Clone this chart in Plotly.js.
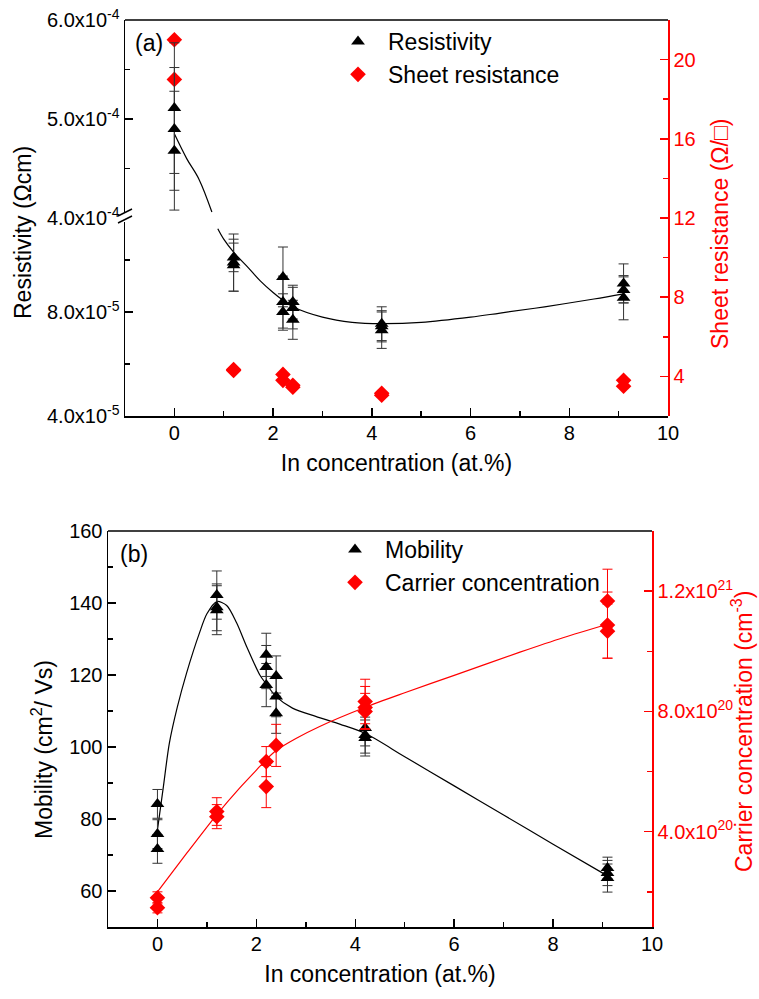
<!DOCTYPE html>
<html><head><meta charset="utf-8">
<script src="https://cdn.plot.ly/plotly-3.0.1.min.js"></script>
<style>html,body{margin:0;padding:0;background:#fff}#chart{width:759px;height:999px}</style>
</head><body><div id="chart"></div><script>
// ---------- Panel (a) data ----------
const resX   = [0,0,0, 1.2,1.2,1.2, 2.2,2.2,2.2, 2.4,2.4,2.4, 4.2,4.2,4.2, 9.1,9.1,9.1];
const resY   = [5.11e-4,4.90e-4,4.68e-4, 1.01e-4,9.9e-5,9.8e-5, 9.35e-5,8.38e-5,8.0e-5, 8.38e-5,8.15e-5,7.7e-5, 7.55e-5,7.45e-5,7.3e-5, 9.1e-5,8.85e-5,8.55e-5];
const resErr = [6.6e-5,6.2e-5,6.0e-5, 5.5e-6,1.1e-5,1.0e-5, 1.15e-5,1.0e-5,7e-6, 6.5e-6,8e-6,7.5e-6, 6.5e-6,6e-6,7e-6, 7.5e-6,5e-6,8.5e-6];
const sheetX = [0,0, 1.2,1.2, 2.2,2.2, 2.4,2.4, 4.2,4.2, 9.1,9.1];
const sheetY = [21.0,19.0, 4.35,4.3, 4.1,3.8, 3.55,3.45, 3.15,3.05, 3.8,3.5];
const resFitUpX = [0, 0.25, 0.5, 0.76];
const resFitUpY = [4.85e-4, 4.6e-4, 4.39e-4, 4.06e-4];
const resFitLoX = [0.88, 1.0, 1.2, 1.5, 1.74, 2.0, 2.2, 2.4, 3.0, 3.6, 4.2, 5.0, 6.0, 6.6, 7.5, 8.5, 9.1];
const resFitLoY = [1.12e-4,1.08e-4,1.03e-4,9.7e-5,9.2e-5,8.75e-5,8.45e-5,8.2e-5,7.8e-5,7.6e-5,7.55e-5,7.6e-5,7.8e-5,7.96e-5,8.2e-5,8.5e-5,8.7e-5];

// ---------- Panel (b) data ----------
const mobX   = [0,0,0, 1.2,1.2,1.2, 2.2,2.2,2.2, 2.4,2.4,2.4, 4.2,4.2,4.2, 9.1,9.1,9.1];
const mobY   = [84.2,75.8,71.7, 142.2,138.8,138.0, 125.6,122.2,117.2, 119.7,114.0,109.4, 105.3,103.3,102.5, 66.4,65.0,63.6];
const mobErr = [4,4,4, 6.7,6.5,6.8, 6,6,6, 5.6,5.6,5.6, 5,5,5, 3,3.5,3.9];
const carX   = [0,0, 1.2,1.2, 2.2,2.2, 2.4, 4.2,4.2,4.2, 9.1,9.1,9.1];
const carY   = [1.8e20,1.47e20, 4.67e20,4.5e20, 6.33e20,5.5e20, 6.87e20, 8.33e20,8.13e20,8.0e20, 1.167e21,1.087e21,1.067e21];
const carErr = [2e19,1.7e19, 4.6e19,4e19, 5e19,7e19, 7e19, 7.4e19,7e19,6e19, 1.06e20,1.1e20,9e19];
const mobFitX = [0,0.12,0.24,0.4,0.59,0.85,1.0,1.2,1.4,1.6,1.8,2.07,2.2,2.4,2.73,3.2,3.7,4.2,5,6,7,8,9.1];
const mobFitY = [77,89,101,111,120.6,131.7,137,140.4,139.3,134.5,128,120,117.5,114,110.8,108.5,106.3,103.8,97.3,89.2,81.1,73,64.2];
const carFitX = [0,0.6,1.2,1.66,2.07,2.2,2.4,2.8,3.28,4.19,5.0,6.0,7.33,8.2,9.1];
const carFitY = [2.0e20,3.3e20,4.57e20,5.45e20,6.17e20,6.4e20,6.7e20,7.1e20,7.5e20,8.13e20,8.62e20,9.2e20,9.97e20,1.045e21,1.09e21];

// tick labels
const resLoTicks = [4e-5, 8e-5], resLoText = ['4.0x10<sup>-5</sup>','8.0x10<sup>-5</sup>'];
const resUpTicks = [4e-4, 5e-4, 6e-4], resUpText = ['4.0x10<sup>-4</sup>','5.0x10<sup>-4</sup>','6.0x10<sup>-4</sup>'];
const carTicks = [4e20, 8e20, 1.2e21], carText = ['4.0x10<sup>20</sup>','8.0x10<sup>20</sup>','1.2x10<sup>21</sup>'];

const W = 759, H = 999;
const px = v => v / W, py = v => 1 - v / H;
const FONT = 'Liberation Sans, Arial, sans-serif';
const RED = '#ff0000';
const BREAK = 3e-4;

// split resistivity into upper/lower segments of the broken axis
const up = {x:[],y:[],e:[]}, lo = {x:[],y:[],e:[]};
resX.forEach((x,i)=>{ const t = resY[i] > BREAK ? up : lo; t.x.push(x); t.y.push(resY[i]); t.e.push(resErr[i]); });

const errB = (arr,color)=>({type:'data', array:arr, visible:true, color:color, thickness:1, width:5});
const tri = {symbol:'triangle-up', size:12, color:'#000'};
const dia = {symbol:'diamond', size:12, color:RED};

const traces = [
  {x:resFitUpX, y:resFitUpY, xaxis:'x', yaxis:'y3', mode:'lines', line:{color:'#000',width:1.2,shape:'spline'}, showlegend:false, hoverinfo:'skip'},
  {x:resFitLoX, y:resFitLoY, xaxis:'x', yaxis:'y', mode:'lines', line:{color:'#000',width:1.2,shape:'spline'}, showlegend:false, hoverinfo:'skip'},
  {x:up.x, y:up.y, error_y:errB(up.e,'#333'), xaxis:'x', yaxis:'y3', mode:'markers', marker:tri, name:'Resistivity', legend:'legend', legendgroup:'r'},
  {x:lo.x, y:lo.y, error_y:errB(lo.e,'#333'), xaxis:'x', yaxis:'y', mode:'markers', marker:tri, name:'Resistivity', showlegend:false, legendgroup:'r'},
  {x:sheetX, y:sheetY, xaxis:'x', yaxis:'y2', mode:'markers', marker:dia, name:'Sheet resistance', legend:'legend'},

  {x:mobFitX, y:mobFitY, xaxis:'x2', yaxis:'y4', mode:'lines', line:{color:'#000',width:1.2,shape:'spline',smoothing:0.8}, showlegend:false, hoverinfo:'skip'},
  {x:carFitX, y:carFitY, xaxis:'x2', yaxis:'y5', mode:'lines', line:{color:RED,width:1.2,shape:'spline',smoothing:0.8}, showlegend:false, hoverinfo:'skip'},
  {x:mobX, y:mobY, error_y:errB(mobErr,'#333'), xaxis:'x2', yaxis:'y4', mode:'markers', marker:tri, name:'Mobility', legend:'legend2'},
  {x:carX, y:carY, error_y:errB(carErr,RED), xaxis:'x2', yaxis:'y5', mode:'markers', marker:dia, name:'Carrier concentration', legend:'legend2'}
];

const tickF = {family:FONT, size:20, color:'#000'};
const tickFR = {family:FONT, size:20, color:RED};
const titleF = {family:FONT, size:23, color:'#000'};
const baseAx = {showgrid:false, zeroline:false, showline:true, linecolor:'#000', linewidth:1.5, ticks:'inside', ticklen:8, tickwidth:1.5, tickcolor:'#000', tickfont:tickF, automargin:false};
const minorX = {ticks:'inside', ticklen:5, tickwidth:1.5, tickcolor:'#000', dtick:1};

const xDomA = [px(125), px(668)], xDomB = [px(108), px(652)];
const yBreak = 218;

const ann = (text, x, y, color, angle) => ({text:text, x:px(x), y:py(y), xref:'paper', yref:'paper', xanchor:'center', yanchor:'middle',
  showarrow:false, textangle:angle||0, font:{family:FONT, size:23, color:color||'#000'}});

const layout = {
  width:W, height:H, margin:{l:0,r:0,t:0,b:0},
  paper_bgcolor:'#fff', plot_bgcolor:'rgba(0,0,0,0)',
  font:{family:FONT, size:20, color:'#000'},
  xaxis: Object.assign({}, baseAx, {domain:xDomA, anchor:'y', range:[-1,10], tick0:0, dtick:2, minor:minorX, ticklabelstandoff:-2,
          title:{text:'In concentration (at.%)', font:titleF, standoff:12}}),
  yaxis: Object.assign({}, baseAx, {domain:[py(416), py(yBreak)], anchor:'x', range:[4e-5, 4e-5 + (416-yBreak)/52*2e-5],
          tickmode:'array', tickvals:resLoTicks, ticktext:resLoText, minor:{tickmode:'array', tickvals:[6e-5,1e-4], ticks:'inside', ticklen:5, tickwidth:1.5, tickcolor:'#000'}}),
  yaxis3: Object.assign({}, baseAx, {domain:[py(yBreak), py(20)], anchor:'x', range:[4e-4, 6e-4],
          tickmode:'array', tickvals:resUpTicks, ticktext:resUpText, minor:{tickmode:'array', tickvals:[4.5e-4,5.5e-4], ticks:'inside', ticklen:5, tickwidth:1.5, tickcolor:'#000'}}),
  yaxis2: Object.assign({}, baseAx, {domain:[py(416), py(20)], anchor:'x', side:'right', range:[2,22], linecolor:RED, tickcolor:RED, tickfont:tickFR,
          tickmode:'array', tickvals:[4,8,12,16,20], minor:{tickmode:'array', tickvals:[6,10,14,18], ticks:'inside', ticklen:5, tickwidth:1.5, tickcolor:RED}}),

  xaxis2: Object.assign({}, baseAx, {domain:xDomB, anchor:'y4', range:[-1,10], tick0:0, dtick:2, minor:minorX, ticklabelstandoff:-2,
          title:{text:'In concentration (at.%)', font:titleF, standoff:12}}),
  yaxis4: Object.assign({}, baseAx, {domain:[py(927), py(531)], anchor:'x2', range:[50,160], tick0:60, dtick:20,
          minor:{ticks:'inside', ticklen:5, tickwidth:1.5, tickcolor:'#000', dtick:10}}),
  yaxis5: Object.assign({}, baseAx, {overlaying:'y4', anchor:'x2', side:'right', range:[0.83e20, 1.4e21], linecolor:RED, tickcolor:RED, tickfont:tickFR,
          tickmode:'array', tickvals:carTicks, ticktext:carText, minor:{tickmode:'array', tickvals:[2e20,6e20,1e21], ticks:'inside', ticklen:5, tickwidth:1.5, tickcolor:RED}}),

  legend: {x:px(328), y:py(20), xanchor:'left', yanchor:'top', bgcolor:'rgba(0,0,0,0)', font:{family:FONT,size:23,color:'#000'}, itemwidth:50, tracegroupgap:0},
  legend2:{x:px(325), y:py(528), xanchor:'left', yanchor:'top', bgcolor:'rgba(0,0,0,0)', font:{family:FONT,size:23,color:'#000'}, itemwidth:50, tracegroupgap:0},

  annotations: [
    ann('(a)', 149, 43),
    ann('(b)', 134, 554),
    ann('Resistivity (\u03A9cm)', 23, 233, '#000', -90),
    ann('Sheet resistance (\u03A9/\u25A1)', 720, 234, RED, -90),
    ann('Mobility (cm<sup>2</sup>/ Vs)', 42, 750, '#000', -90),
    ann('Carrier concentration (cm<sup>-3</sup>)', 742, 732, RED, -90)
  ],
  shapes: [
    {type:'line', xref:'paper', yref:'paper', x0:xDomA[0], x1:xDomA[1], y0:py(20), y1:py(20), line:{color:'#000', width:1.5}},
    {type:'line', xref:'paper', yref:'paper', x0:xDomB[0], x1:xDomB[1], y0:py(531), y1:py(531), line:{color:'#000', width:1.5}},
    {type:'rect', xref:'paper', yref:'paper', x0:px(122), x1:px(128), y0:py(222), y1:py(212), line:{width:0}, fillcolor:'#fff', layer:'above'},
    {type:'line', xref:'paper', yref:'paper', x0:px(118), x1:px(132), y0:py(216), y1:py(209), line:{color:'#000', width:1.5}, layer:'above'},
    {type:'line', xref:'paper', yref:'paper', x0:px(118), x1:px(132), y0:py(223), y1:py(216), line:{color:'#000', width:1.5}, layer:'above'}
  ]
};

Plotly.newPlot('chart', traces, layout, {displayModeBar:false, staticPlot:true});
</script></body></html>
